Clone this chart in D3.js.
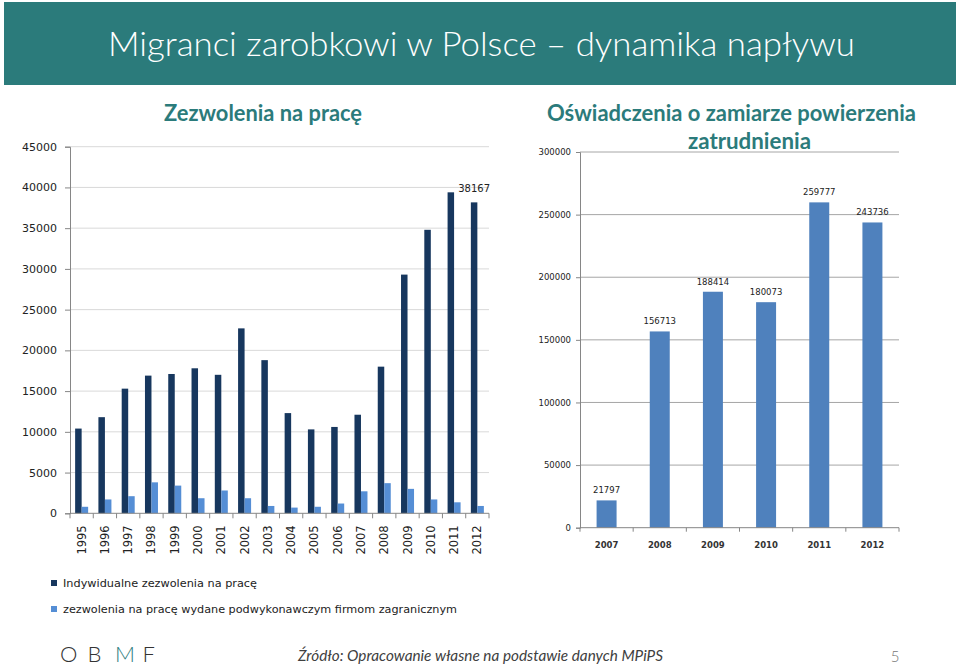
<!DOCTYPE html>
<html><head><meta charset="utf-8">
<script src="https://cdn.jsdelivr.net/npm/d3@7"></script>
<style>
html,body{margin:0;padding:0;background:#fff;}
svg{display:block;}
</style></head>
<body>
<svg id="c" width="960" height="666"></svg>
<script>
// ---- data ----
const permitYears = ["1995","1996","1997","1998","1999","2000","2001","2002","2003","2004","2005","2006","2007","2008","2009","2010","2011","2012"];
const individualPermits = [10400,11800,15300,16900,17100,17800,17000,22700,18800,12300,10300,10600,12100,18000,29300,34800,39400,38167];
const subcontractPermits = [800,1700,2100,3800,3400,1850,2800,1850,900,700,800,1200,2700,3700,3000,1700,1350,900];
const permitSeries = ["Indywidualne zezwolenia na pracę","zezwolenia na pracę wydane podwykonawczym firmom zagranicznym"];
const permitTicks = [0,5000,10000,15000,20000,25000,30000,35000,40000,45000];
const declYears = ["2007","2008","2009","2010","2011","2012"];
const declarations = [21797,156713,188414,180073,259777,243736];
const declTicks = [0,50000,100000,150000,200000,250000,300000];

const svg = d3.select("#c");
const teal = "#2B7B7B";
const dark = "#17375E", light = "#558ED5", blue = "#4F81BD";
const axisFont = "'DejaVu Sans', Verdana, sans-serif";

function fit(sel, w){ sel.attr("textLength", w).attr("lengthAdjust","spacingAndGlyphs"); return sel; }

// header
svg.append("rect").attr("x",4).attr("y",2).attr("width",952).attr("height",83).attr("fill",teal);
fit(svg.append("text").attr("x",481.5).attr("y",56).attr("text-anchor","middle")
  .attr("font-family","Lato, 'Open Sans', sans-serif").attr("font-weight",300)
  .attr("font-size",34).attr("fill","#fff")
  .text("Migranci zarobkowi w Polsce – dynamika napływu"), 747);

// subtitles
const subFont = "Lato, sans-serif";
fit(svg.append("text").attr("x",263).attr("y",121).attr("text-anchor","middle")
  .attr("font-family",subFont).attr("font-weight",700).attr("font-size",23).attr("fill",teal)
  .text("Zezwolenia na pracę"),198);
fit(svg.append("text").attr("x",731.5).attr("y",121).attr("text-anchor","middle")
  .attr("font-family",subFont).attr("font-weight",700).attr("font-size",23).attr("fill",teal)
  .text("Oświadczenia o zamiarze powierzenia"),369);
fit(svg.append("text").attr("x",749.5).attr("y",149).attr("text-anchor","middle")
  .attr("font-family",subFont).attr("font-weight",700).attr("font-size",23).attr("fill",teal)
  .text("zatrudnienia"),123);

// ---- left chart ----
const L = {x0:70, x1:489, y0:513.3, y1:146.7};
const xL = d3.scaleBand().domain(permitYears).range([L.x0,L.x1]).padding(0);
const xL1 = d3.scaleBand().domain([0,1]).range([0,xL.bandwidth()]).paddingInner(0).paddingOuter(0.79);
const yL = d3.scaleLinear().domain([0,45000]).range([L.y0,L.y1]);
const gL = svg.append("g");
gL.selectAll("line.grid").data(permitTicks.slice(1)).join("line")
  .attr("x1",L.x0).attr("x2",L.x1).attr("y1",d=>yL(d)).attr("y2",d=>yL(d))
  .attr("stroke","#D9D9D9").attr("stroke-width",1);
const seriesVals = [individualPermits, subcontractPermits];
const seriesCol = [dark, light];
seriesVals.forEach((vals,si)=>{
  gL.selectAll("rect.s"+si).data(permitYears).join("rect")
    .attr("x",d=>xL(d)+xL1(si)).attr("width",xL1.bandwidth())
    .attr("y",(d,i)=>yL(vals[i])).attr("height",(d,i)=>yL(0)-yL(vals[i]))
    .attr("fill",seriesCol[si]);
});
// y axis
const yAxL = gL.append("g").attr("transform",`translate(${L.x0},0)`)
  .call(d3.axisLeft(yL).tickValues(permitTicks).tickSize(5).tickPadding(8).tickFormat(d3.format("d")));
yAxL.select(".domain").attr("stroke","#868686");
yAxL.selectAll(".tick line").attr("stroke","#868686");
yAxL.selectAll("text").attr("font-family",axisFont).attr("font-size",11).attr("fill","#222");
// x axis
const xAxL = gL.append("g").attr("transform",`translate(0,${L.y0})`);
xAxL.append("line").attr("x1",L.x0).attr("x2",L.x1).attr("stroke","#868686");
xAxL.selectAll("line.tk").data(permitYears.concat(["end"])).join("line")
  .attr("x1",(d,i)=>L.x0+i*xL.step()).attr("x2",(d,i)=>L.x0+i*xL.step())
  .attr("y1",0).attr("y2",5).attr("stroke","#868686");
xAxL.selectAll("text").data(permitYears).join("text")
  .attr("transform",d=>`translate(${xL(d)+xL.bandwidth()/2+4},12) rotate(-90)`)
  .attr("text-anchor","end").attr("font-family",axisFont).attr("font-size",11.5).attr("fill","#222")
  .text(d=>d);
// value label 2012
const lastI = permitYears.length-1;
gL.append("text").attr("x",xL(permitYears[lastI])+xL1(0)+xL1.bandwidth()/2)
  .attr("y",yL(individualPermits[lastI])-10).attr("text-anchor","middle")
  .attr("font-family",axisFont).attr("font-size",10).attr("fill","#222")
  .text(individualPermits[lastI]);
// legend
const lg = svg.append("g");
permitSeries.forEach((s,i)=>{
  const y = 583 + i*26;
  lg.append("rect").attr("x",51).attr("y",y-3).attr("width",6).attr("height",6).attr("fill",seriesCol[i]);
  fit(lg.append("text").attr("x",63).attr("y",y+4).attr("font-family",axisFont).attr("font-size",10.5).attr("fill","#222").text(s), i===0?194:394);
});

// ---- right chart ----
const R = {x0:580, x1:899, y0:527.7, y1:152};
const xR = d3.scaleBand().domain(declYears).range([R.x0,R.x1]).paddingInner(0.624).paddingOuter(0.312);
const yR = d3.scaleLinear().domain([0,300000]).range([R.y0,R.y1]);
const gR = svg.append("g");
gR.selectAll("line.grid").data(declTicks.slice(1)).join("line")
  .attr("x1",R.x0).attr("x2",R.x1).attr("y1",d=>yR(d)).attr("y2",d=>yR(d))
  .attr("stroke","#A6A6A6").attr("stroke-width",1);
gR.selectAll("rect.b").data(declYears).join("rect")
  .attr("x",d=>xR(d)).attr("width",xR.bandwidth())
  .attr("y",(d,i)=>yR(declarations[i])).attr("height",(d,i)=>yR(0)-yR(declarations[i]))
  .attr("fill",blue);
gR.selectAll("text.v").data(declYears).join("text")
  .attr("x",d=>xR(d)+xR.bandwidth()/2).attr("y",(d,i)=>yR(declarations[i])-7)
  .attr("text-anchor","middle").attr("font-family",axisFont).attr("font-size",8.5).attr("fill","#222")
  .text((d,i)=>declarations[i]);
const yAxR = gR.append("g").attr("transform",`translate(${R.x0},0)`)
  .call(d3.axisLeft(yR).tickValues(declTicks).tickSize(4).tickPadding(5).tickFormat(d3.format("d")));
yAxR.select(".domain").attr("stroke","#868686");
yAxR.selectAll(".tick line").attr("stroke","#868686");
yAxR.selectAll("text").attr("font-family",axisFont).attr("font-size",8.5).attr("fill","#222");
const xAxR = gR.append("g").attr("transform",`translate(0,${R.y0})`);
xAxR.append("line").attr("x1",R.x0).attr("x2",R.x1).attr("stroke","#868686");
xAxR.selectAll("line.tk").data(declYears.concat(["end"])).join("line")
  .attr("x1",(d,i)=>R.x0+i*xR.step()).attr("x2",(d,i)=>R.x0+i*xR.step())
  .attr("y1",0).attr("y2",4).attr("stroke","#868686");
xAxR.selectAll("text").data(declYears).join("text")
  .attr("x",d=>xR(d)+xR.bandwidth()/2).attr("y",20).attr("text-anchor","middle")
  .attr("font-family",axisFont).attr("font-size",8.5).attr("font-weight",600).attr("fill","#333").text(d=>d);

// footer
const logo = svg.append("text").attr("y",662)
  .attr("font-family","Lato, sans-serif").attr("font-weight",300).attr("font-size",22).attr("fill","#333");
["O","B","M","F"].forEach((ch,i)=>{
  logo.append("tspan").attr("x",60+i*27.5).attr("fill",ch==="M"?teal:"#333").text(ch);
});
fit(svg.append("text").attr("x",298).attr("y",661).attr("font-family","Lato, sans-serif")
  .attr("font-style","italic").attr("font-size",15).attr("fill","#404040")
  .text("Źródło: Opracowanie własne na podstawie danych MPiPS"),365);
svg.append("text").attr("x",895).attr("y",662).attr("text-anchor","middle").attr("font-family","Lato, sans-serif")
  .attr("font-weight",300).attr("font-size",15).attr("fill","#777").text("5");
</script>
</body></html>
